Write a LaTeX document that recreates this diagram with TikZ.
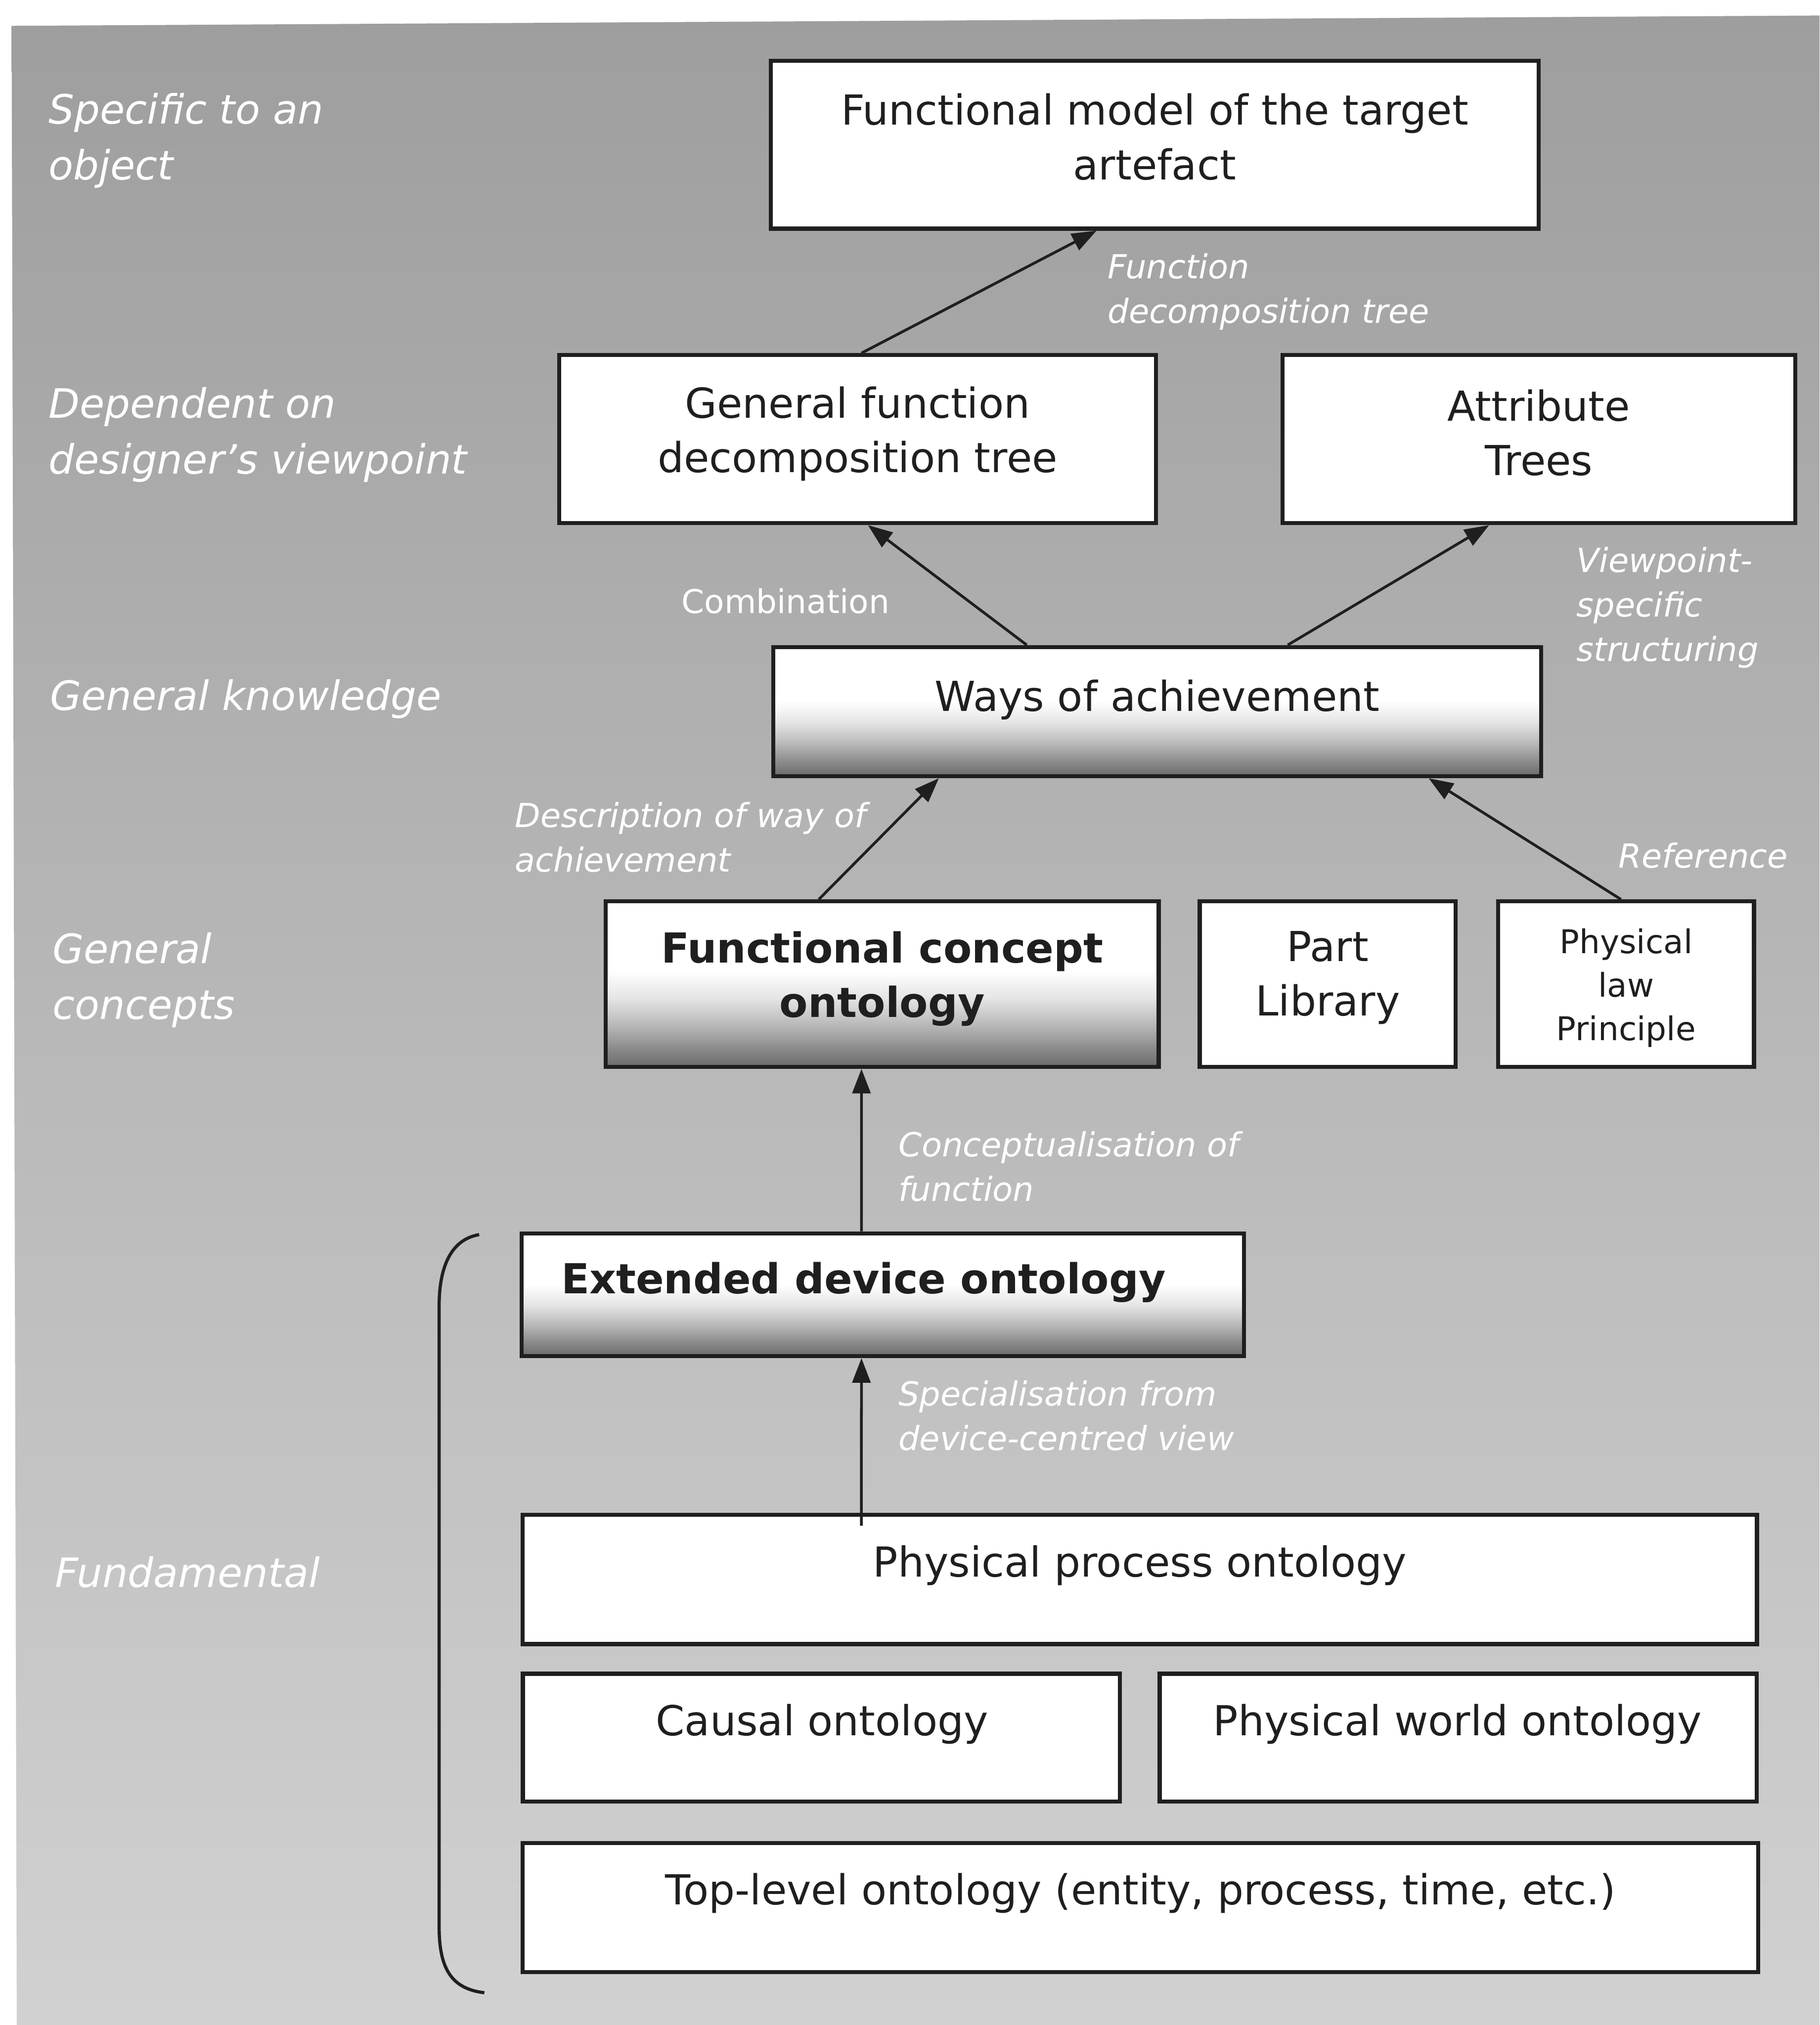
\documentclass[tikz,border=0pt]{standalone}
\usepackage{fontspec}
\setmainfont{DejaVu Sans}
\usetikzlibrary{arrows.meta,calc}

\definecolor{bgtop}{gray}{0.62}
\definecolor{bgbot}{gray}{0.82}
\definecolor{ink}{gray}{0.12}
% white on top, darkening towards the bottom edge of the box
\pgfdeclareverticalshading{boxgrad}{100bp}{color(0bp)=(black!58); color(25bp)=(black!58); color(30bp)=(black!47); color(37.5bp)=(black!28); color(46bp)=(black!10); color(54bp)=(white); color(100bp)=(white)}

\begin{document}
\begin{tikzpicture}[x=0.01cm, y=-0.01cm,
  box/.style={draw=ink, line width=0.9pt, fill=white, inner sep=0pt},
  gbox/.style={box, shading=boxgrad},
  boxtxt/.style={align=center, text=ink, inner sep=0pt, font=\fontsize{9.1}{12}\selectfont},
  smalltxt/.style={boxtxt, font=\fontsize{7.2}{9.6}\selectfont},
  side/.style={anchor=base west, align=left, text=white, inner sep=0pt, font=\fontsize{8.9}{12.3}\selectfont\itshape},
  edgetxt/.style={anchor=base west, align=left, text=white, inner sep=0pt, font=\fontsize{7.3}{9.8}\selectfont\itshape},
  arr/.style={draw=ink, line width=0.6pt, -{Triangle[length=0.19cm,width=0.14cm]}},
  bracket/.style={draw=ink, line width=0.7pt}
]
\useasboundingbox (0,0) rectangle (1409,1568);

% page and grey panel
\fill[white] (0,0) rectangle (1409,1568);
\shade[top color=bgtop, bottom color=bgbot] (9,20) -- (1409,12) -- (1409,1568) -- (13,1568) -- cycle;

% level captions (positioned by the baseline of their last line)
\node[side] (c1) at (37,139) {Specific to an\\object};
\node[side] (c2) at (37,367) {Dependent on\\designer’s viewpoint};
\node[side] (c3) at (38,550) {General knowledge};
\node[side] (c4) at (40,789) {General\\concepts};
\node[side] (c5) at (42,1229) {Fundamental};

% boxes
\node[box, minimum width=5.94cm, minimum height=1.30cm] (fm) at (894,112) {};
\node[box, minimum width=4.62cm, minimum height=1.30cm] (gfd) at (664,340) {};
\node[box, minimum width=3.97cm, minimum height=1.30cm] (at) at (1191.5,340) {};
\node[gbox, minimum width=5.94cm, minimum height=1.00cm] (wa) at (896,551) {};
\node[gbox, minimum width=4.28cm, minimum height=1.28cm] (fco) at (683,762) {};
\node[box, minimum width=1.98cm, minimum height=1.28cm] (pl) at (1028,762) {};
\node[box, minimum width=1.98cm, minimum height=1.28cm] (plp) at (1259,762) {};
\node[gbox, minimum width=5.59cm, minimum height=0.95cm] (edo) at (683.5,1002.5) {};
\node[box, minimum width=9.55cm, minimum height=1.00cm] (ppo) at (882.5,1223) {};
\node[box, minimum width=4.62cm, minimum height=0.99cm] (co) at (636,1345.5) {};
\node[box, minimum width=4.62cm, minimum height=0.99cm] (pwo) at (1129,1345.5) {};
\node[box, minimum width=9.56cm, minimum height=1.00cm] (tlo) at (883,1477) {};

% box texts
\node[boxtxt] (fmt) at (894,106) {Functional model of the target\\artefact};
\node[boxtxt] (gfdt) at (664,336) {General function\\decomposition tree};
\node[boxtxt] (att) at (1191.5,335) {Attribute\\Trees};
\node[boxtxt] (wat) at (896,542) {Ways of achievement};
\node[boxtxt, font=\fontsize{9.1}{12}\selectfont\bfseries] (fcot) at (683,758) {Functional concept\\ontology};
\node[boxtxt] (plt) at (1028,757) {Part\\Library};
\node[smalltxt] (plpt) at (1259,765) {Physical\\law\\Principle};
\node[boxtxt, font=\fontsize{9.1}{12}\selectfont\bfseries] (edot) at (668.5,993) {Extended device ontology};
\node[boxtxt] (ppot) at (882.5,1212) {Physical process ontology};
\node[boxtxt] (cot) at (636.5,1335) {Causal ontology};
\node[boxtxt] (pwot) at (1128.5,1335) {Physical world ontology};
\node[boxtxt] (tlot) at (883,1466) {Top-level ontology (entity, process, time, etc.)};

% relations
\draw[arr] ([xshift=0.03cm]gfd.north) -- ([xshift=-0.45cm]fm.south);
\draw[arr] ([xshift=-1.01cm]wa.north) -- ([xshift=0.08cm]gfd.south);
\draw[arr] ([xshift=1.01cm]wa.north) -- ([xshift=-0.385cm]at.south);
\draw[arr] ([xshift=-0.49cm]fco.north) -- ([xshift=-1.69cm]wa.south);
\draw[arr] ([xshift=-0.04cm]plp.north) -- ([xshift=2.10cm]wa.south);
\draw[arr] ([xshift=-0.165cm]edo.north) -- ([xshift=-0.16cm]fco.south);
\draw[arr] ([xshift=-2.155cm,yshift=-0.10cm]ppo.north) -- ([xshift=-0.165cm]edo.south);

% relation captions (positioned by the baseline of their last line)
\node[edgetxt] (l1) at (857,250) {Function\\decomposition tree};
\node[edgetxt, font=\fontsize{7.2}{9.8}\selectfont] (l2) at (527,475) {Combination};
\node[edgetxt] (l3) at (1220,512) {Viewpoint-\\specific\\structuring};
\node[edgetxt] (l4) at (398,675) {Description of way of\\achievement};
\node[edgetxt, anchor=base east] (l5) at (1385,672) {Reference};
\node[edgetxt] (l6) at (695,930) {Conceptualisation of\\function};
\node[edgetxt] (l7) at (695,1123) {Specialisation from\\device-centred view};

% bracket grouping the fundamental ontologies
\coordinate (bt) at (371,956);
\coordinate (bb) at (375,1543);
\draw[bracket] (bt) .. controls (347,960) and (340,985) .. (340,1011) -- (340,1492) .. controls (340,1525) and (350,1540) .. (bb);
\end{tikzpicture}
\end{document}
